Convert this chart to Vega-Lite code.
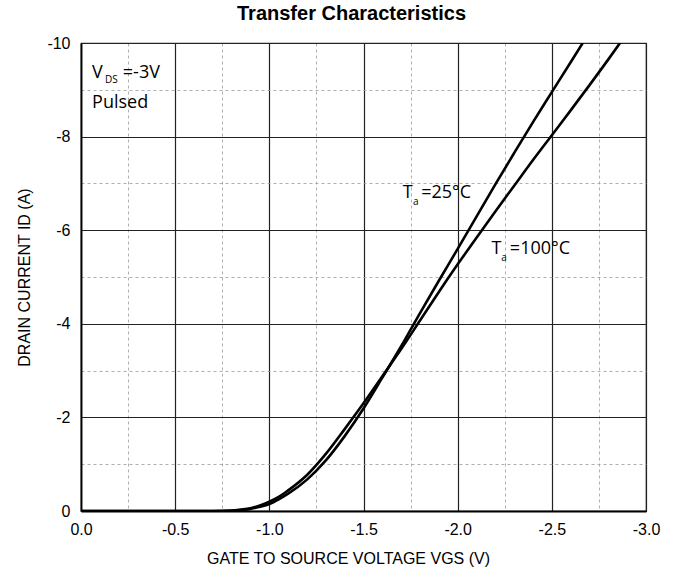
{
  "$schema": "https://vega.github.io/schema/vega-lite/v6.json",
  "width": 565,
  "height": 468,
  "autosize": "none",
  "padding": {"left": 81, "top": 43, "right": 31, "bottom": 68},
  "background": "white",
  "title": {
    "text": "Transfer Characteristics",
    "font": "Liberation Sans",
    "fontSize": 20,
    "fontWeight": "bold",
    "color": "black",
    "anchor": "middle",
    "dx": -12,
    "offset": 11
  },
  "config": {
    "view": {"stroke": "#333", "strokeWidth": 1.2},
    "axis": {
      "labelFont": "Liberation Sans",
      "labelFontSize": 16,
      "labelColor": "black",
      "titleFont": "Liberation Sans",
      "titleFontSize": 16,
      "titleFontWeight": "normal",
      "titleColor": "black",
      "ticks": false,
      "domainColor": "black",
      "domainWidth": 1.8,
      "gridOpacity": 1
    }
  },
  "datasets": {
    "curves": [
      {"vgs": 0, "id": 0, "ta": "25°C"},
      {"vgs": -0.5, "id": 0, "ta": "25°C"},
      {"vgs": -0.7, "id": 0, "ta": "25°C"},
      {"vgs": -0.8, "id": -0.005, "ta": "25°C"},
      {"vgs": -0.85, "id": -0.02, "ta": "25°C"},
      {"vgs": -0.9, "id": -0.045, "ta": "25°C"},
      {"vgs": -0.95, "id": -0.09, "ta": "25°C"},
      {"vgs": -1.0, "id": -0.15, "ta": "25°C"},
      {"vgs": -1.05, "id": -0.25, "ta": "25°C"},
      {"vgs": -1.1, "id": -0.37, "ta": "25°C"},
      {"vgs": -1.2, "id": -0.67, "ta": "25°C"},
      {"vgs": -1.3, "id": -1.08, "ta": "25°C"},
      {"vgs": -1.4, "id": -1.6, "ta": "25°C"},
      {"vgs": -1.5, "id": -2.19, "ta": "25°C"},
      {"vgs": -1.6, "id": -2.85, "ta": "25°C"},
      {"vgs": -1.7, "id": -3.52, "ta": "25°C"},
      {"vgs": -1.8, "id": -4.23, "ta": "25°C"},
      {"vgs": -1.9, "id": -4.92, "ta": "25°C"},
      {"vgs": -2.0, "id": -5.6, "ta": "25°C"},
      {"vgs": -2.1, "id": -6.29, "ta": "25°C"},
      {"vgs": -2.2, "id": -6.98, "ta": "25°C"},
      {"vgs": -2.3, "id": -7.65, "ta": "25°C"},
      {"vgs": -2.4, "id": -8.31, "ta": "25°C"},
      {"vgs": -2.5, "id": -8.95, "ta": "25°C"},
      {"vgs": -2.6, "id": -9.59, "ta": "25°C"},
      {"vgs": -2.664, "id": -10, "ta": "25°C"},
      {"vgs": 0, "id": 0, "ta": "100°C"},
      {"vgs": -0.5, "id": 0, "ta": "100°C"},
      {"vgs": -0.7, "id": 0, "ta": "100°C"},
      {"vgs": -0.8, "id": -0.008, "ta": "100°C"},
      {"vgs": -0.85, "id": -0.03, "ta": "100°C"},
      {"vgs": -0.9, "id": -0.06, "ta": "100°C"},
      {"vgs": -0.95, "id": -0.12, "ta": "100°C"},
      {"vgs": -1.0, "id": -0.2, "ta": "100°C"},
      {"vgs": -1.05, "id": -0.3, "ta": "100°C"},
      {"vgs": -1.1, "id": -0.44, "ta": "100°C"},
      {"vgs": -1.2, "id": -0.77, "ta": "100°C"},
      {"vgs": -1.3, "id": -1.22, "ta": "100°C"},
      {"vgs": -1.4, "id": -1.75, "ta": "100°C"},
      {"vgs": -1.5, "id": -2.3, "ta": "100°C"},
      {"vgs": -1.6, "id": -2.88, "ta": "100°C"},
      {"vgs": -1.7, "id": -3.46, "ta": "100°C"},
      {"vgs": -1.8, "id": -4.07, "ta": "100°C"},
      {"vgs": -1.9, "id": -4.68, "ta": "100°C"},
      {"vgs": -2.0, "id": -5.27, "ta": "100°C"},
      {"vgs": -2.1, "id": -5.84, "ta": "100°C"},
      {"vgs": -2.2, "id": -6.4, "ta": "100°C"},
      {"vgs": -2.3, "id": -6.95, "ta": "100°C"},
      {"vgs": -2.4, "id": -7.5, "ta": "100°C"},
      {"vgs": -2.5, "id": -8.03, "ta": "100°C"},
      {"vgs": -2.6, "id": -8.56, "ta": "100°C"},
      {"vgs": -2.7, "id": -9.1, "ta": "100°C"},
      {"vgs": -2.8, "id": -9.65, "ta": "100°C"},
      {"vgs": -2.862, "id": -10, "ta": "100°C"}
    ],
    "notes": [
      {"vgs": -0.059, "id": -9.25, "t": "V"},
      {"vgs": -0.222, "id": -9.25, "t": "=-3V"},
      {"vgs": -0.059, "id": -8.61, "t": "Pulsed"},
      {"vgs": -1.709, "id": -6.68, "t": "T"},
      {"vgs": -1.806, "id": -6.68, "t": "=25°C"},
      {"vgs": -2.179, "id": -5.5, "t": "T"},
      {"vgs": -2.277, "id": -5.5, "t": "=100°C"}
    ],
    "subs": [
      {"vgs": -0.128, "id": -9.14, "t": "DS"},
      {"vgs": -1.763, "id": -6.53, "t": "a"},
      {"vgs": -2.232, "id": -5.345, "t": "a"}
    ]
  },
  "encoding": {
    "x": {
      "field": "vgs",
      "type": "quantitative",
      "scale": {"domain": [0, -3], "nice": false, "zero": false},
      "axis": {
        "values": [0, -0.25, -0.5, -0.75, -1, -1.25, -1.5, -1.75, -2, -2.25, -2.5, -2.75, -3],
        "title": "GATE TO SOURCE VOLTAGE VGS (V)",
        "titleX": 267,
        "titleAlign": "center",
        "titlePadding": 13,
        "labelPadding": 10,
        "labelFlush": false,
        "labelExpr": "datum.value % 0.5 != 0 ? '' : replace(format(datum.value, '.1f'), '\u2212', '-')",
        "grid": true,
        "gridColor": {"condition": {"test": "datum.value % 0.5 != 0", "value": "#9a9a9a"}, "value": "#222222"},
        "gridDash": {"condition": {"test": "datum.value % 0.5 != 0", "value": [3, 3]}, "value": []},
        "gridWidth": {"condition": {"test": "datum.value % 0.5 != 0", "value": 0.8}, "value": 1.2}
      }
    },
    "y": {
      "field": "id",
      "type": "quantitative",
      "scale": {"domain": [0, -10], "nice": false, "zero": false},
      "axis": {
        "values": [0, -1, -2, -3, -4, -5, -6, -7, -8, -9, -10],
        "title": "DRAIN CURRENT ID (A)",
        "titlePadding": 14,
        "labelPadding": 11,
        "labelFlush": false,
        "labelExpr": "datum.value % 2 != 0 ? '' : replace(format(datum.value, 'd'), '\u2212', '-')",
        "grid": true,
        "gridColor": {"condition": {"test": "datum.value % 2 != 0", "value": "#9a9a9a"}, "value": "#222222"},
        "gridDash": {"condition": {"test": "datum.value % 2 != 0", "value": [3, 3]}, "value": []},
        "gridWidth": {"condition": {"test": "datum.value % 2 != 0", "value": 0.8}, "value": 1.2}
      }
    }
  },
  "layer": [
    {
      "data": {"name": "curves"},
      "mark": {"type": "line", "color": "black", "strokeWidth": 2.6, "interpolate": "monotone", "clip": true},
      "encoding": {"detail": {"field": "ta", "type": "nominal"}}
    },
    {
      "data": {"name": "notes"},
      "mark": {"type": "text", "font": "Open Sans", "fontSize": 18, "color": "black", "align": "left", "baseline": "alphabetic"},
      "encoding": {"text": {"field": "t"}}
    },
    {
      "data": {"name": "subs"},
      "mark": {"type": "text", "font": "Open Sans", "fontSize": 10, "color": "black", "align": "left", "baseline": "alphabetic"},
      "encoding": {"text": {"field": "t"}}
    }
  ]
}
